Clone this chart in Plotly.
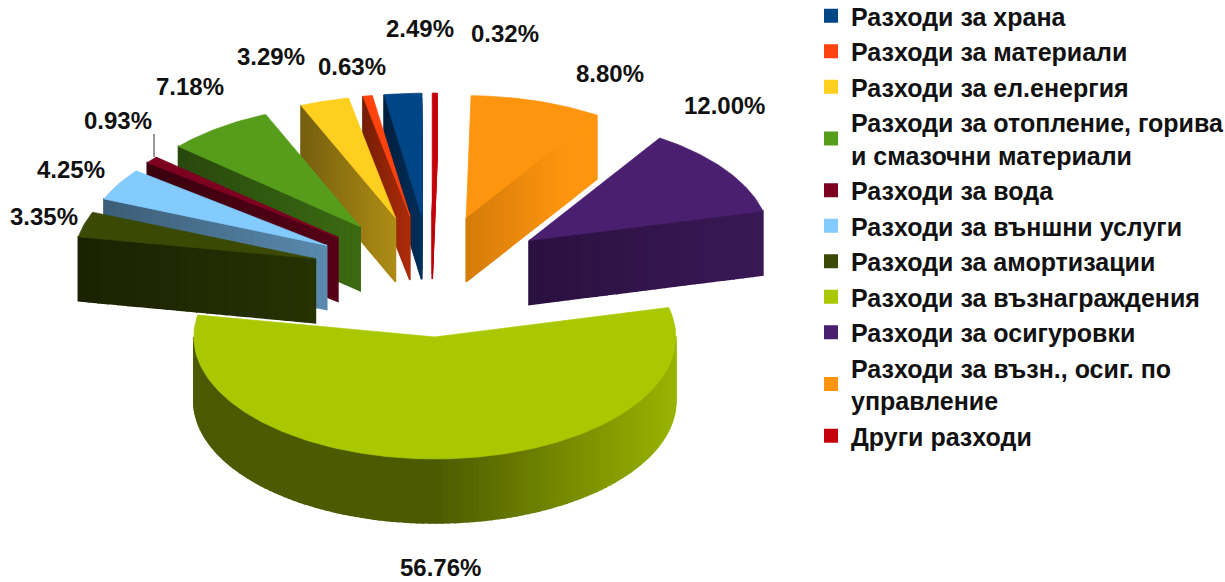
import numpy as np
import plotly.graph_objects as go

categories = ["Разходи за храна", "Разходи за материали", "Разходи за ел.енергия",
              "Разходи за отопление, горива<br>и смазочни материали", "Разходи за вода",
              "Разходи за външни услуги", "Разходи за амортизации", "Разходи за възнаграждения",
              "Разходи за осигуровки", "Разходи за възн., осиг. по<br>управление", "Други разходи"]
values = [2.49, 0.63, 3.29, 7.18, 0.93, 4.25, 3.35, 56.76, 12.00, 8.80, 0.32]
colors = ["#004586", "#ff420e", "#ffcf20", "#579d1c", "#7e0021", "#83caff",
          "#3a4a04", "#aac800", "#4b1f6f", "#ff950e", "#c5000b"]
label_x = [420, 352, 271, 190, 118, 71, 44, 440, 724, 610, 505]
label_y = [28, 66, 56, 86, 120, 169, 216, 567, 105, 73, 33]

CX, CY, RX, RY, DEPTH, EXPLODE = 431, 276, 241, 122, 64, 0.5
TOP_SHIFT = 7


def shade(color, f):
    r, g, b = (int(color[i:i + 2], 16) for i in (1, 3, 5))
    f = min(f, 1.0)
    return f"rgb({int(r * f)},{int(g * f)},{int(b * f)})"


def light(normal_deg):
    return 0.45 + 0.45 * max(0.0, np.cos(np.radians(normal_deg)))


fig = go.Figure()


def poly(xs, ys, color, lw=0.7):
    fig.add_trace(go.Scatter(x=list(xs) + [xs[0]], y=list(ys) + [ys[0]], mode="lines", fill="toself",
                             fillcolor=color, line=dict(color=color, width=lw),
                             hoverinfo="skip", showlegend=False))


shares = np.array(values) / sum(values)
starts = 90 + 360 * np.concatenate(([0], np.cumsum(shares)[:-1]))
ends = starts + 360 * shares
mids = (starts + ends) / 2

order = np.argsort(-np.sin(np.radians(mids)))
for i in order:
    a0, a1, mid, col = starts[i], ends[i], mids[i], colors[i]
    tx = CX + EXPLODE * RX * np.cos(np.radians(mid))
    ty = CY - EXPLODE * RY * np.sin(np.radians(mid))

    def pt(a):
        return tx + RX * np.cos(np.radians(a)), ty - RY * np.sin(np.radians(a))

    # radial walls facing the viewer
    walls = []
    if np.cos(np.radians(a0)) > 0:
        walls.append((a0, a0 - 90))
    if np.cos(np.radians(a1)) < 0:
        walls.append((a1, a1 + 90))
    for a, normal in walls:
        ex, ey = pt(a)
        base = light(normal) + 0.12
        n = 24
        for k in range(n):
            t0, t1 = k / n, (k + 1) / n
            x0, y0 = tx + (ex - tx) * t0, ty + (ey - ty) * t0
            x1, y1 = tx + (ex - tx) * t1, ty + (ey - ty) * t1
            grad = (0.5 - t0) if ex < tx else (t0 - 0.5)
            poly([x0, x1, x1, x0], [y0, y1, y1 + DEPTH, y0 + DEPTH],
                 shade(col, base + 0.22 * grad), lw=1.6)

    # outer wall (only its front part)
    steps = max(2, int((a1 - a0) / 1.5))
    grid = np.linspace(a0, a1, steps + 1)
    for g0, g1 in zip(grid[:-1], grid[1:]):
        if np.sin(np.radians((g0 + g1) / 2)) < 0:
            x0, y0 = pt(g0)
            x1, y1 = pt(g1)
            poly([x0, x1, x1, x0], [y0, y1, y1 + DEPTH, y0 + DEPTH],
                 shade(col, light((g0 + g1) / 2)), lw=1.6)

    # top face
    arc = np.linspace(a0, a1, max(3, int(a1 - a0) + 2))
    px, py = pt(arc)
    poly([tx] + list(px), [ty] + list(py), col)

# legend entries
for name, col in zip(categories, colors):
    fig.add_trace(go.Scatter(x=[None], y=[None], mode="markers", name=name, legendgroup=name,
                             marker=dict(symbol="square", size=14, color=col), hoverinfo="skip"))

for v, lx, ly in zip(values, label_x, label_y):
    fig.add_annotation(x=lx, y=ly, text=f"<b>{v:.2f}%</b>", showarrow=False,
                       font=dict(family="Liberation Sans", size=24, color="#111111"))

# leader line of the 0.93% label
fig.add_shape(type="line", x0=154, x1=154, y0=134, y1=157, line=dict(color="#333333", width=1))

fig.update_layout(
    width=1225, height=582 + TOP_SHIFT, margin=dict(l=0, r=0, t=0, b=0, autoexpand=False),
    paper_bgcolor="white", plot_bgcolor="white",
    xaxis=dict(range=[0, 1225], visible=False, fixedrange=True),
    yaxis=dict(range=[582, -TOP_SHIFT], visible=False, fixedrange=True),
    legend=dict(x=811 / 1225, y=1, xanchor="left", yanchor="top", traceorder="grouped",
                tracegroupgap=0, bgcolor="rgba(0,0,0,0)", entrywidth=360, entrywidthmode="pixels",
                font=dict(family="Liberation Sans", size=25, color="#111111", weight="bold")),
)
fig.write_html("out.html", config={"displayModeBar": False},
               post_script=f"document.body.style.margin='-{TOP_SHIFT}px 0 0 0';document.body.style.overflow='hidden';")
